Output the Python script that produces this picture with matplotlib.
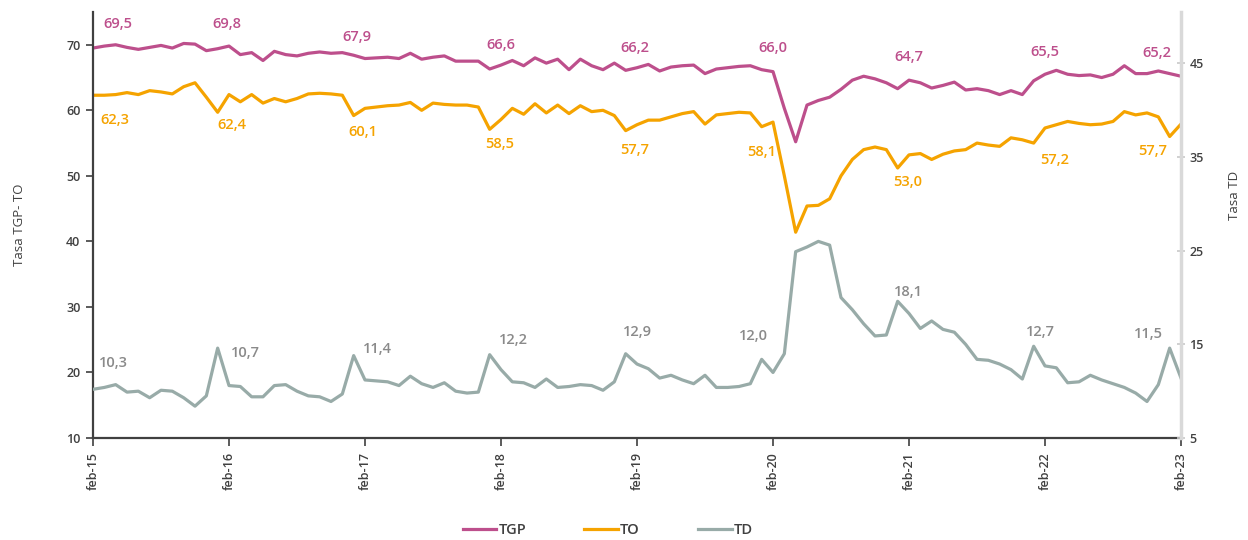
import matplotlib
matplotlib.use("Agg")
import matplotlib.pyplot as plt
import numpy as np

plt.rcParams['font.family'] = ['Open Sans', 'DejaVu Sans']

# monthly series, feb-15 .. feb-23
tgp = [69.5, 69.8, 70.0, 69.6, 69.3, 69.6, 69.9, 69.5, 70.2, 70.1, 69.1, 69.4,
       69.8, 68.5, 68.8, 67.6, 69.0, 68.5, 68.3, 68.7, 68.9, 68.7, 68.8, 68.4,
       67.9, 68.0, 68.1, 67.9, 68.7, 67.8, 68.1, 68.3, 67.5, 67.5, 67.5, 66.3,
       66.9, 67.6, 66.8, 68.0, 67.2, 67.8, 66.2, 67.8, 66.8, 66.2, 67.2, 66.1,
       66.5, 67.0, 66.0, 66.6, 66.8, 66.9, 65.6, 66.3, 66.5, 66.7, 66.8, 66.2,
       65.9, 60.3, 55.2, 60.8, 61.5, 62.0, 63.2, 64.6, 65.2, 64.8, 64.2, 63.3,
       64.6, 64.2, 63.4, 63.8, 64.3, 63.1, 63.3, 63.0, 62.4, 63.0, 62.4, 64.5,
       65.5, 66.1, 65.5, 65.3, 65.4, 65.0, 65.5, 66.8, 65.6, 65.6, 66.0, 65.6,
       65.2]
to = [62.3, 62.3, 62.4, 62.7, 62.4, 63.0, 62.8, 62.5, 63.6, 64.2, 62.0, 59.7,
      62.4, 61.3, 62.4, 61.1, 61.8, 61.3, 61.8, 62.5, 62.6, 62.5, 62.3, 59.2,
      60.3, 60.5, 60.7, 60.8, 61.2, 60.0, 61.1, 60.9, 60.8, 60.8, 60.5, 57.1,
      58.6, 60.3, 59.4, 61.0, 59.6, 60.8, 59.5, 60.7, 59.8, 60.0, 59.2, 56.9,
      57.8, 58.5, 58.5, 59.0, 59.5, 59.8, 57.9, 59.3, 59.5, 59.7, 59.6, 57.5,
      58.2, 50.0, 41.4, 45.4, 45.5, 46.5, 50.0, 52.5, 54.0, 54.4, 54.0, 51.2,
      53.2, 53.4, 52.5, 53.3, 53.8, 54.0, 55.0, 54.7, 54.5, 55.8, 55.5, 55.0,
      57.3, 57.8, 58.3, 58.0, 57.8, 57.9, 58.3, 59.8, 59.3, 59.6, 59.0, 56.0,
      57.9]
td = [10.2, 10.4, 10.7, 9.9, 10.0, 9.3, 10.1, 10.0, 9.3, 8.4, 9.5, 14.6,
      10.6, 10.5, 9.4, 9.4, 10.6, 10.7, 10.0, 9.5, 9.4, 8.9, 9.7, 13.8,
      11.2, 11.1, 11.0, 10.6, 11.6, 10.8, 10.4, 10.9, 10.0, 9.8, 9.9, 13.9,
      12.3, 11.0, 10.9, 10.4, 11.3, 10.4, 10.5, 10.7, 10.6, 10.1, 11.0, 14.0,
      12.9, 12.4, 11.4, 11.7, 11.2, 10.8, 11.7, 10.4, 10.4, 10.5, 10.8, 13.4,
      12.0, 14.0, 24.9, 25.4, 26.0, 25.6, 20.0, 18.7, 17.2, 15.9, 16.0, 19.6,
      18.3, 16.7, 17.5, 16.6, 16.3, 15.0, 13.4, 13.3, 12.9, 12.3, 11.3, 14.8,
      12.7, 12.5, 10.9, 11.0, 11.7, 11.2, 10.8, 10.4, 9.8, 8.9, 10.7, 14.6,
      11.4]

year_ticks = ["feb-15", "feb-16", "feb-17", "feb-18", "feb-19",
              "feb-20", "feb-21", "feb-22", "feb-23"]

tgp_lab = ["69,5", "69,8", "67,9", "66,6", "66,2", "66,0", "64,7", "65,5", "65,2"]
to_lab = ["62,3", "62,4", "60,1", "58,5", "57,7", "58,1", "53,0", "57,2", "57,7"]
td_lab = ["10,3", "10,7", "11,4", "12,2", "12,9", "12,0", "18,1", "12,7", "11,5"]

# label offsets in pixels from the february point
tgp_off = [(25, 24), (-2, 22), (-8, 22), (0, 20), (-2, 20), (0, 24), (0, 23), (0, 22), (-24, 23)]
to_off = [(22, -25), (3, -30), (-2, -24), (-1, -25), (-2, -25), (-11, -30), (-1, -27), (10, -32), (-28, -27)]
td_off = [(20, 26), (16, 33), (12, 31), (12, 30), (0, 32), (-20, 36), (-1, 21), (-5, 34), (-33, 44)]

c_tgp = '#bd4f8c'
c_to = '#f5a300'
c_td = '#98aba8'
c_tdlab = '#8a8a8a'
c_axis = '#404040'

x = np.arange(len(tgp))
feb = np.arange(0, len(tgp), 12)

fig = plt.figure(figsize=(12.48, 5.4), dpi=100)
ax = fig.add_axes([93/1248, 1 - 438/540, (1181 - 93)/1248, (438 - 12)/540])
ax2 = ax.twinx()

lw = 2.3
l1, = ax.plot(x, tgp, color=c_tgp, lw=lw, solid_joinstyle='round', label='TGP')
l2, = ax.plot(x, to, color=c_to, lw=lw, solid_joinstyle='round', label='TO')
l3, = ax2.plot(x, td, color=c_td, lw=lw, solid_joinstyle='round', label='TD')

ax.set_xlim(0, len(tgp) - 1)
ax.set_ylim(10, 75)
ax2.set_ylim(5, 50.5)
ax.set_yticks(np.arange(10, 71, 10))
ax2.set_yticks(np.arange(5, 46, 10))
ax.set_xticks(feb)
ax.set_xticklabels(year_ticks, rotation=90, fontsize=9, color=c_axis)

for a in (ax, ax2):
    a.spines['top'].set_visible(False)
ax.spines['left'].set_color(c_axis)
ax.spines['left'].set_linewidth(1.6)
ax.spines['bottom'].set_color(c_axis)
ax.spines['bottom'].set_linewidth(1.6)
ax.spines['right'].set_visible(False)
ax2.spines['left'].set_visible(False)
ax2.spines['bottom'].set_visible(False)
ax2.spines['right'].set_color('#d9d9d9')
ax2.spines['right'].set_linewidth(2.5)

ax.tick_params(axis='y', direction='out', length=5, width=1.2, color=c_axis,
               labelsize=9, labelcolor=c_axis, pad=4)
ax.tick_params(axis='x', direction='out', length=6, width=1.2, color=c_axis, pad=4)
ax2.tick_params(axis='y', direction='inout', length=6, width=1.2, color='#c8c8c8',
                labelsize=9, labelcolor=c_axis, pad=3)
for t in ax.get_xticklabels() + ax.get_yticklabels() + ax2.get_yticklabels():
    t.set_fontweight('semibold')

ax.set_ylabel('Tasa TGP- TO', fontsize=9.5, color=c_axis)
ax2.set_ylabel('Tasa TD', fontsize=9.5, color=c_axis)
ax.yaxis.set_label_coords(-0.062, 0.5)
ax2.yaxis.set_label_coords(1.043, 0.57)

def put_labels(axis, series, labels, offsets, color):
    for k, (lab, off) in enumerate(zip(labels, offsets)):
        i = feb[k]
        axis.annotate(lab, xy=(i, series[i]), xytext=off, textcoords='offset pixels',
                      ha='center', va='center', fontsize=10.5, color=color,
                      fontweight='semibold', annotation_clip=False)

put_labels(ax, tgp, tgp_lab, tgp_off, c_tgp)
put_labels(ax, to, to_lab, to_off, c_to)
put_labels(ax2, td, td_lab, td_off, c_tdlab)

leg = fig.legend(handles=[l1, l2, l3], loc='center', bbox_to_anchor=(0.487, 0.019),
                 ncol=3, frameon=False, fontsize=10.5, handlelength=2.3,
                 handletextpad=0.15, columnspacing=4.0, labelcolor=c_axis)
for t in leg.get_texts():
    t.set_fontweight('semibold')

fig.savefig('out.png', dpi=100)
